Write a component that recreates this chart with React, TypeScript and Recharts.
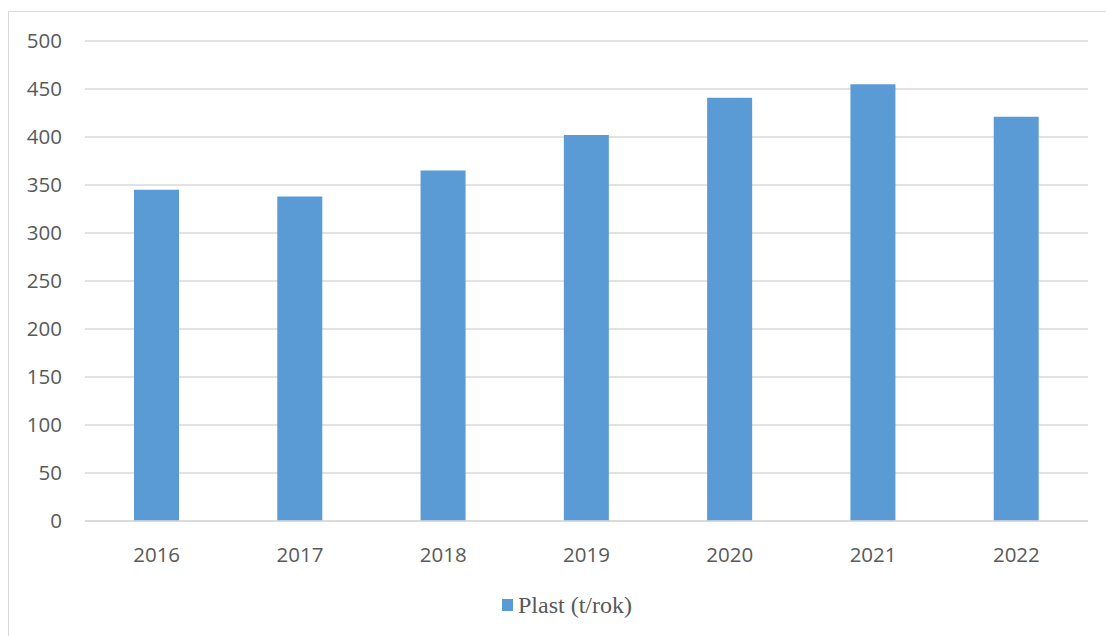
import { Bar, BarChart, CartesianGrid, Legend, XAxis, YAxis } from "recharts";

// yearly plastic amount, tonnes per year
const years = ["2016", "2017", "2018", "2019", "2020", "2021", "2022"];
const plast = [345, 338, 365, 402, 441, 455, 421];
const yTicks = [0, 50, 100, 150, 200, 250, 300, 350, 400, 450, 500];
const seriesName = "Plast (t/rok)";

const data = years.map((year, i) => ({ year, plast: plast[i] }));

const BLUE = "#5B9BD5";
const GRID = "#D9D9D9";
const TEXT = "#595959";
const tickStyle = { fill: TEXT, fontSize: 20.5, fontFamily: "'Open Sans', sans-serif" };

function PlastLegend() {
  return (
    <div style={{ display: "flex", alignItems: "center", height: 30 }}>
      <span
        style={{
          display: "inline-block",
          width: 11,
          height: 12,
          background: BLUE,
          marginRight: 5,
        }}
      />
      <span
        style={{
          fontFamily: "'Liberation Serif', serif",
          fontSize: 24,
          color: TEXT,
        }}
      >
        {seriesName}
      </span>
    </div>
  );
}

export default function App() {
  return (
    <div
      style={{
        position: "fixed",
        left: 0,
        top: 0,
        width: 1106,
        height: 636,
        overflow: "hidden",
        background: "#fff",
      }}
    >
      {/* outer chart frame, runs off the right and bottom edges */}
      <div
        style={{
          position: "absolute",
          left: 8,
          top: 11,
          width: 1200,
          height: 700,
          border: `1.5px solid ${GRID}`,
        }}
      />
      <div style={{ position: "absolute", left: 0, top: 0 }}>
        <BarChart
          width={1106}
          height={636}
          data={data}
          margin={{ top: 41, right: 18, left: 25, bottom: 75 }}
        >
          <CartesianGrid vertical={false} stroke={GRID} strokeWidth={1.5} />
          <XAxis
            dataKey="year"
            height={40}
            axisLine={{ stroke: GRID, strokeWidth: 1.5 }}
            tickLine={false}
            tickMargin={20}
            tick={tickStyle}
          />
          <YAxis
            width={60}
            domain={[0, 500]}
            ticks={yTicks}
            interval={0}
            axisLine={false}
            tickLine={false}
            tickMargin={17}
            tick={tickStyle}
          />
          <Legend
            verticalAlign="middle"
            content={<PlastLegend />}
            wrapperStyle={{ top: 590, left: 502, width: "auto" }}
          />
          <Bar
            dataKey="plast"
            name={seriesName}
            fill={BLUE}
            barSize={45}
            isAnimationActive={false}
          />
        </BarChart>
      </div>
    </div>
  );
}
